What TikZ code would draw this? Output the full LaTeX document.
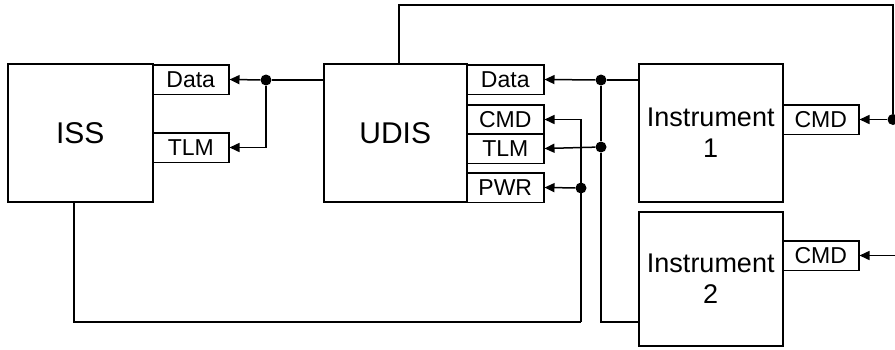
\documentclass[tikz,border=0pt]{standalone}
\usepackage{fontspec}
\setmainfont{Liberation Sans}
\usetikzlibrary{arrows.meta, positioning, calc}
\tikzset{
    unitbox/.style={rectangle, draw=black, line width=1.5pt, inner sep=0pt, anchor=north west, align=center, font=\fontsize{30}{34}\selectfont},
    instbox/.style={unitbox, font=\fontsize{27}{31}\selectfont},
    portbox/.style={rectangle, draw=black, line width=1.5pt, inner sep=0pt, anchor=north west, minimum width=76pt, minimum height=29.5pt, font=\fontsize{23}{26}\selectfont},
    wire/.style={line width=1.5pt, black},
    arrow/.style={wire, -{Triangle[length=10pt, width=9pt]}},
    junction/.style={circle, fill=black, inner sep=0pt, minimum size=11pt},
}

\begin{document}
\begin{tikzpicture}[x=1pt, y=-1pt]
\useasboundingbox (0,0) rectangle (895,349);

% Main units
\node[unitbox, minimum width=145pt, minimum height=138pt] (iss) at (7,63) {ISS};
\node[unitbox, minimum width=143pt, minimum height=138pt] (udis) at (323,63) {UDIS};
\node[instbox, minimum width=144pt, minimum height=138pt] (inst1) at (638,63) {Instrument\\1};
\node[instbox, minimum width=144pt, minimum height=134pt] (inst2) at (638,211) {Instrument\\2};

% Ports
\node[portbox] (iss-data) at (152,64) {Data};
\node[portbox] (iss-tlm) at (152,132) {TLM};
\node[portbox, minimum width=77pt] (udis-data) at (466,64) {Data};
\node[portbox, minimum width=77pt] (udis-cmd) at (466,104) {CMD};
\node[portbox, minimum width=77pt] (udis-tlm) at (466,133) {TLM};
\node[portbox, minimum width=77pt] (udis-pwr) at (466,172) {PWR};
\node[portbox] (inst1-cmd) at (782,104) {CMD};
\node[portbox] (inst2-cmd) at (782,240) {CMD};

% Free ends
\coordinate (iss-feed) at (74,201);
\coordinate (bus-pwr) at (581,322);
\coordinate (bus-data) at (601,322);
\coordinate (udis-top) at (399,63);
\coordinate (top-right) at (893,5);
\coordinate (edge-top) at (895,0);

% Junctions
\node[junction] (j-iss) at (266,80) {};
\node[junction] (j-data) at (601,80) {};
\node[junction] (j-tlm) at (601,147) {};
\node[junction] (j-pwr) at (581,188) {};
\node[junction] (j-cmd) at (top-right |- inst1-cmd.east) {};

% UDIS to ISS
\draw[wire] (udis.west |- j-iss) -- (j-iss);
\draw[arrow] (j-iss) -- (iss-data.east);
\draw[arrow] (j-iss) |- (iss-tlm.east);

% Instruments to UDIS
\draw[wire] (inst1.west |- j-data) -- (j-data);
\draw[arrow] (j-data) -- (udis-data.east);
\draw[wire] (j-data) -- (j-tlm) -- (bus-data) -- (inst2.west |- bus-data);
\draw[arrow] (j-tlm) -- (udis-tlm.east);

% ISS feed to UDIS
\draw[wire] (iss-feed) |- (bus-pwr);
\draw[arrow] (bus-pwr) |- (udis-cmd.east);
\draw[arrow] (j-pwr) -- (udis-pwr.east);

% Commands to instruments
\draw[wire] (udis-top) |- (top-right) -- (j-cmd);
\draw[arrow] (j-cmd) -- (inst1-cmd.east);
\draw[arrow] (edge-top |- inst2-cmd.east) -- (inst2-cmd.east);

\end{tikzpicture}
\end{document}
